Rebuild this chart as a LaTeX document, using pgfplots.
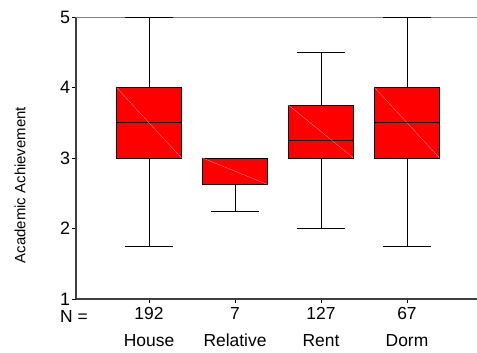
\documentclass[border=0pt]{standalone}
\usepackage{pgfplots}
\pgfplotsset{compat=1.18}
\usepgfplotslibrary{statistics}
\usepackage{fontspec}
\setmainfont{Liberation Sans}
\definecolor{axgray}{HTML}{404040}
\definecolor{topgray}{HTML}{808080}
\definecolor{diag}{HTML}{FF9A9A}
\begin{document}
\begin{tikzpicture}
\begin{axis}[
  scale only axis,
  width=401bp, height=282bp,
  xmin=0.151, xmax=4.814,
  ymin=1, ymax=5,
  axis x line*=bottom, axis y line*=left,
  axis line style={draw=axgray, line width=1.1bp, -},
  ytick={1,2,3,4,5},
  xtick={1,2,3,4},
  xticklabels={192\\House, 7\\Relative, 127\\Rent, 67\\Dorm},
  xticklabel style={align=center, font=\fontsize{17.5}{27}\selectfont, yshift=-1bp},
  yticklabel style={font=\fontsize{18}{20}\selectfont, xshift=1.5bp},
  /pgf/number format/assume math mode=true,
  tick align=outside,
  major tick length=4bp,
  tick style={draw=black, line width=0.6bp},
  clip=false,
  ylabel={Academic Achievement},
  every axis y label/.style={at={(rel axis cs:0,0.404)}, xshift=-56bp, rotate=90, anchor=center, font=\fontsize{15}{17}\selectfont},
  boxplot/draw direction=y,
  boxplot/box extend=0.756,
  boxplot/whisker extend=0.547,
  boxplot/every whisker/.style={draw=black, line width=0.7bp},
  boxplot/every median/.style={draw=black, line width=0.8bp},
  boxplot/every box/.style={fill=red, draw=black, line width=0.7bp},
]
\draw[topgray, line width=0.9bp] (rel axis cs:0,1) -- (rel axis cs:1,1);
\addplot[boxplot prepared={draw position=1, lower whisker=1.75, lower quartile=3, median=3.5, upper quartile=4, upper whisker=5}, draw=black, line width=0.7bp] coordinates {};
\addplot[boxplot prepared={draw position=2, lower whisker=2.25, lower quartile=2.625, median=3, upper quartile=3, upper whisker=3}, draw=black, line width=0.7bp] coordinates {};
\addplot[boxplot prepared={draw position=3, lower whisker=2, lower quartile=3, median=3.25, upper quartile=3.75, upper whisker=4.5}, draw=black, line width=0.7bp] coordinates {};
\addplot[boxplot prepared={draw position=4, lower whisker=1.75, lower quartile=3, median=3.5, upper quartile=4, upper whisker=5}, draw=black, line width=0.7bp] coordinates {};
\addplot[diag, line width=0.3bp] coordinates {(0.622,4) (1.378,3)};
\addplot[diag, line width=0.3bp] coordinates {(1.622,3) (2.378,2.625)};
\addplot[diag, line width=0.3bp] coordinates {(2.622,3.75) (3.378,3)};
\addplot[diag, line width=0.3bp] coordinates {(3.622,4) (4.378,3)};
\node[anchor=base west, font=\fontsize{17.5}{20}\selectfont, inner sep=0pt] at ([xshift=-16bp, yshift=-23bp]rel axis cs:0,0) {N =};
\coordinate (bl) at ([xshift=-76bp, yshift=-54bp]rel axis cs:0,0);
\coordinate (tr) at ([yshift=17bp]rel axis cs:1,1);
\end{axis}
\pgfresetboundingbox
\useasboundingbox (bl) rectangle (tr);
\end{tikzpicture}
\end{document}
